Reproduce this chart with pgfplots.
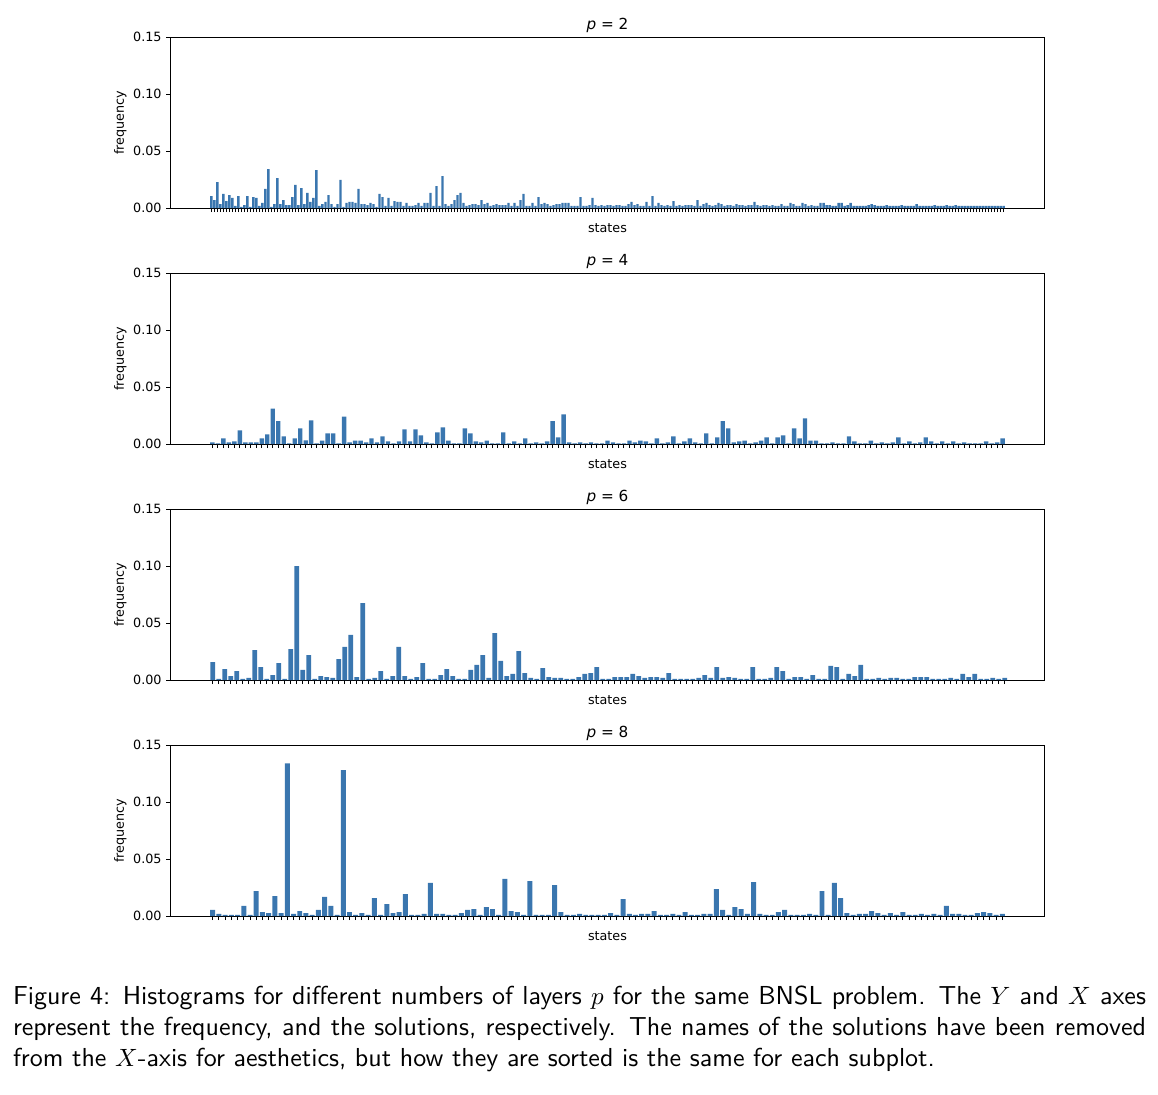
\documentclass[border=0pt]{standalone}
\usepackage{fontspec}
\usepackage{pgfplots}
\usepackage{pgfplotstable}
\pgfplotsset{compat=1.18}
\newfontfamily\mpl{DejaVu Sans}
\definecolor{barblue}{RGB}{58,118,175}

\pgfplotstableread{
y
0.0105
0.007
0.0228
0.0035
0.0123
0.0061
0.0114
0.0088
0.0018
0.0105
0.0009
0.0026
0.0105
0.0009
0.0096
0.0088
0.0018
0.0044
0.0167
0.0342
0.0009
0.0035
0.0263
0.0035
0.007
0.0026
0.0026
0.0096
0.0202
0.0026
0.0175
0.0035
0.0132
0.0053
0.0088
0.0333
0.0018
0.0035
0.0053
0.0114
0.0035
0.0009
0.0035
0.0246
0.0009
0.0044
0.0053
0.0053
0.0044
0.0167
0.0035
0.0035
0.0026
0.0044
0.0035
0.0009
0.0123
0.0096
0.0018
0.0088
0.0018
0.0061
0.0053
0.0053
0.0018
0.0044
0.0018
0.0018
0.0026
0.0044
0.0018
0.0044
0.0044
0.0132
0.0018
0.0193
0.0018
0.028
0.0035
0.0018
0.0035
0.007
0.0114
0.0132
0.0044
0.0018
0.0026
0.0035
0.0035
0.0026
0.007
0.0035
0.0044
0.0018
0.0026
0.0035
0.0026
0.0026
0.0026
0.0044
0.0018
0.0044
0.0018
0.007
0.0123
0.0018
0.0018
0.0044
0.0018
0.0096
0.0035
0.0044
0.0035
0.0018
0.0026
0.0035
0.0035
0.0044
0.0044
0.0044
0.0018
0.0018
0.0018
0.0096
0.0018
0.0018
0.0026
0.0088
0.0026
0.0018
0.0026
0.0018
0.0026
0.0026
0.0018
0.0026
0.0026
0.0018
0.0018
0.0035
0.0053
0.0026
0.0035
0.0018
0.0018
0.0053
0.0018
0.0105
0.0018
0.0044
0.0026
0.0018
0.0026
0.0018
0.0061
0.0018
0.0026
0.0018
0.0026
0.0026
0.0026
0.0018
0.007
0.0018
0.0035
0.0044
0.0026
0.0018
0.0026
0.0044
0.0035
0.0018
0.0026
0.0026
0.0018
0.0035
0.0026
0.0026
0.0018
0.0026
0.0026
0.0053
0.0026
0.0018
0.0026
0.0026
0.0018
0.0026
0.0018
0.0018
0.0035
0.0018
0.0018
0.0044
0.0035
0.0018
0.0018
0.0044
0.0035
0.0018
0.0026
0.0018
0.0018
0.0044
0.0044
0.0026
0.0026
0.0018
0.0018
0.0044
0.0044
0.0018
0.0026
0.0044
0.0018
0.0018
0.0018
0.0018
0.0018
0.0026
0.0035
0.0026
0.0018
0.0018
0.0018
0.0026
0.0018
0.0018
0.0018
0.0018
0.0026
0.0018
0.0018
0.0018
0.0018
0.0035
0.0018
0.0018
0.0018
0.0018
0.0018
0.0026
0.0018
0.0018
0.0018
0.0026
0.0018
0.0018
0.0026
0.0018
0.0018
0.0018
0.0018
0.0018
0.0018
0.0018
0.0018
0.0018
0.0018
0.0018
0.0018
0.0018
0.0018
0.0018
0.0018
}\ptwo

\pgfplotstableread{
y
0.0015
0.0006
0.005
0.0015
0.0023
0.012
0.0015
0.0015
0.0015
0.005
0.0085
0.031
0.020
0.0067
0.0006
0.005
0.0137
0.0032
0.0208
0.0006
0.003
0.0094
0.0094
0.0006
0.024
0.0015
0.003
0.003
0.0015
0.005
0.0015
0.0067
0.0023
0.0006
0.0023
0.0129
0.0023
0.0129
0.0076
0.0015
0.0006
0.0102
0.0146
0.003
0.0006
0.0006
0.0137
0.0094
0.0023
0.0015
0.003
0.0006
0.0006
0.0102
0.0006
0.0023
0.0006
0.005
0.0006
0.0015
0.0006
0.0023
0.020
0.0058
0.026
0.0015
0.0006
0.0015
0.0006
0.0015
0.0006
0.0006
0.003
0.0015
0.0006
0.0006
0.003
0.0015
0.003
0.0023
0.0006
0.005
0.0006
0.0015
0.0067
0.0006
0.0023
0.005
0.0015
0.0006
0.0094
0.0006
0.0058
0.020
0.0137
0.0015
0.0023
0.003
0.0006
0.0015
0.003
0.0058
0.0006
0.0058
0.0076
0.0006
0.0137
0.005
0.0225
0.003
0.003
0.0006
0.0006
0.0015
0.0006
0.0006
0.0067
0.0023
0.0006
0.0006
0.003
0.0006
0.0015
0.0006
0.0015
0.0058
0.0006
0.0023
0.0006
0.0015
0.0058
0.0023
0.0006
0.0023
0.0006
0.0023
0.0006
0.0015
0.0006
0.0006
0.0006
0.0023
0.0006
0.0015
0.005
}\pfour

\pgfplotstableread{
y
0.0158
0.001
0.0096
0.0035
0.0079
0.001
0.0018
0.0263
0.0114
0.001
0.0044
0.0149
0.001
0.0272
0.100
0.0088
0.0219
0.001
0.0035
0.0026
0.0018
0.0184
0.029
0.0395
0.0026
0.0675
0.001
0.0018
0.0079
0.001
0.0035
0.029
0.0035
0.001
0.0026
0.0149
0.001
0.001
0.0044
0.0096
0.0035
0.001
0.001
0.0088
0.0132
0.0219
0.0018
0.0412
0.0167
0.0035
0.0053
0.0254
0.0061
0.0018
0.001
0.0105
0.0026
0.0018
0.0018
0.001
0.001
0.0026
0.0053
0.0061
0.0114
0.001
0.001
0.0026
0.0026
0.0026
0.0053
0.0035
0.0018
0.0026
0.0026
0.0018
0.0061
0.001
0.001
0.001
0.001
0.0018
0.0044
0.0018
0.0114
0.0018
0.0026
0.0018
0.001
0.001
0.0114
0.001
0.001
0.0018
0.0114
0.0079
0.001
0.0026
0.0026
0.001
0.0044
0.001
0.001
0.0123
0.0114
0.001
0.0053
0.0035
0.0132
0.001
0.001
0.0018
0.001
0.0018
0.0018
0.001
0.001
0.0026
0.0026
0.0026
0.001
0.001
0.001
0.0018
0.001
0.0053
0.0026
0.0053
0.001
0.001
0.0018
0.001
0.0018
}\psix

\pgfplotstableread{
y
0.0053
0.0018
0.0009
0.0009
0.0009
0.0088
0.0009
0.0219
0.0035
0.0026
0.0175
0.0026
0.134
0.0018
0.0044
0.0026
0.0009
0.0053
0.0167
0.0088
0.0009
0.128
0.0035
0.0009
0.0026
0.0009
0.0158
0.0009
0.0105
0.0026
0.0035
0.0193
0.0009
0.0009
0.0018
0.029
0.0018
0.0018
0.0009
0.0009
0.0026
0.0053
0.0061
0.0009
0.0079
0.0061
0.0009
0.0325
0.0044
0.0035
0.0009
0.0307
0.0009
0.0009
0.0009
0.0272
0.0035
0.0009
0.0009
0.0018
0.0009
0.0009
0.0009
0.0009
0.0026
0.0009
0.0149
0.0018
0.0009
0.0018
0.0018
0.0044
0.0009
0.0009
0.0018
0.0009
0.0035
0.0009
0.0009
0.0018
0.0018
0.0237
0.0053
0.0009
0.0079
0.0061
0.0018
0.0298
0.0018
0.0009
0.0009
0.0035
0.0053
0.0009
0.0009
0.0009
0.0018
0.0009
0.0219
0.0009
0.029
0.0158
0.0026
0.0009
0.0018
0.0018
0.0044
0.0026
0.0009
0.0026
0.0009
0.0035
0.0009
0.0009
0.0018
0.0009
0.0018
0.0009
0.0088
0.0018
0.0018
0.0009
0.0009
0.0026
0.0035
0.0026
0.0009
0.0018
}\peight

\pgfplotsset{
  panel/.style={
    scale only axis, width=349.6pt, height=68.4pt,
    anchor=north west,
    enlargelimits=false,
    ymin=0, ymax=0.15, ytick={0,0.05,0.1,0.15},
    scaled y ticks=false,
    tick label style={font=\mpl\fontsize{5.1}{6}\selectfont},
    yticklabel style={inner sep=0pt, anchor=east, xshift=-1.7pt,
      /pgf/number format/fixed, /pgf/number format/fixed zerofill,
      /pgf/number format/precision=2, /pgf/number format/assume math mode=true},
    xtick=data, xticklabel={\mbox{}},
    tick align=outside, xtick pos=bottom, ytick pos=left,
    major tick length=1.68pt,
    every tick/.style={black, line width=0.4pt},
    axis line style={line width=0.4pt},
    xlabel={states}, ylabel={frequency},
    every axis y label/.style={at={(axis description cs:-0.0534,0.5)}, rotate=90, anchor=base, inner sep=0pt, font=\mpl\fontsize{5.1}{6}\selectfont},
    every axis x label/.style={at={(axis description cs:0.5,-0.1444)}, anchor=base, inner sep=0pt, font=\mpl\fontsize{5.1}{6}\selectfont},
    every axis title/.style={at={(axis description cs:0.5,1.0468)}, anchor=base, inner sep=0pt, font=\mpl\fontsize{6.1}{7}\selectfont},
    ybar, bar width=0.8, bar shift=0pt,
  },
  barplot/.style={fill=barblue, draw=none},
}

\begin{document}
\begin{tikzpicture}
\path[use as bounding box] (0,0) rectangle (463.2pt,-437.6pt);

\begin{axis}[panel, at={(68.2pt,-14.8pt)}, xmin=-13.64, xmax=277.64, title={{\itshape p} = 2}]
\addplot[barplot] table[x expr=\coordindex, y=y]{\ptwo};
\end{axis}

\begin{axis}[panel, at={(68.2pt,-109.2pt)}, xmin=-7.64, xmax=151.64, title={{\itshape p} = 4}]
\addplot[barplot] table[x expr=\coordindex, y=y]{\pfour};
\end{axis}

\begin{axis}[panel, at={(68.2pt,-203.6pt)}, xmin=-7.04, xmax=138.64, title={{\itshape p} = 6}]
\addplot[barplot] table[x expr=\coordindex, y=y]{\psix};
\end{axis}

\begin{axis}[panel, at={(68.2pt,-298.0pt)}, xmin=-6.79, xmax=133.79, title={{\itshape p} = 8}]
\addplot[barplot] table[x expr=\coordindex, y=y]{\peight};
\end{axis}

\node[anchor=north west, inner sep=0pt, text width=453.2pt, align=justify,
      font=\sffamily\fontsize{10.4}{12.4}\selectfont] at (5pt,-394pt)
  {Figure 4: Histograms for different numbers of layers $p$ for the same BNSL problem. The $Y$ and $X$ axes\linebreak represent the frequency, and the solutions, respectively. The names of the solutions have been removed\linebreak from the $X$-axis for aesthetics, but how they are sorted is the same for each subplot.};
\end{tikzpicture}
\end{document}
